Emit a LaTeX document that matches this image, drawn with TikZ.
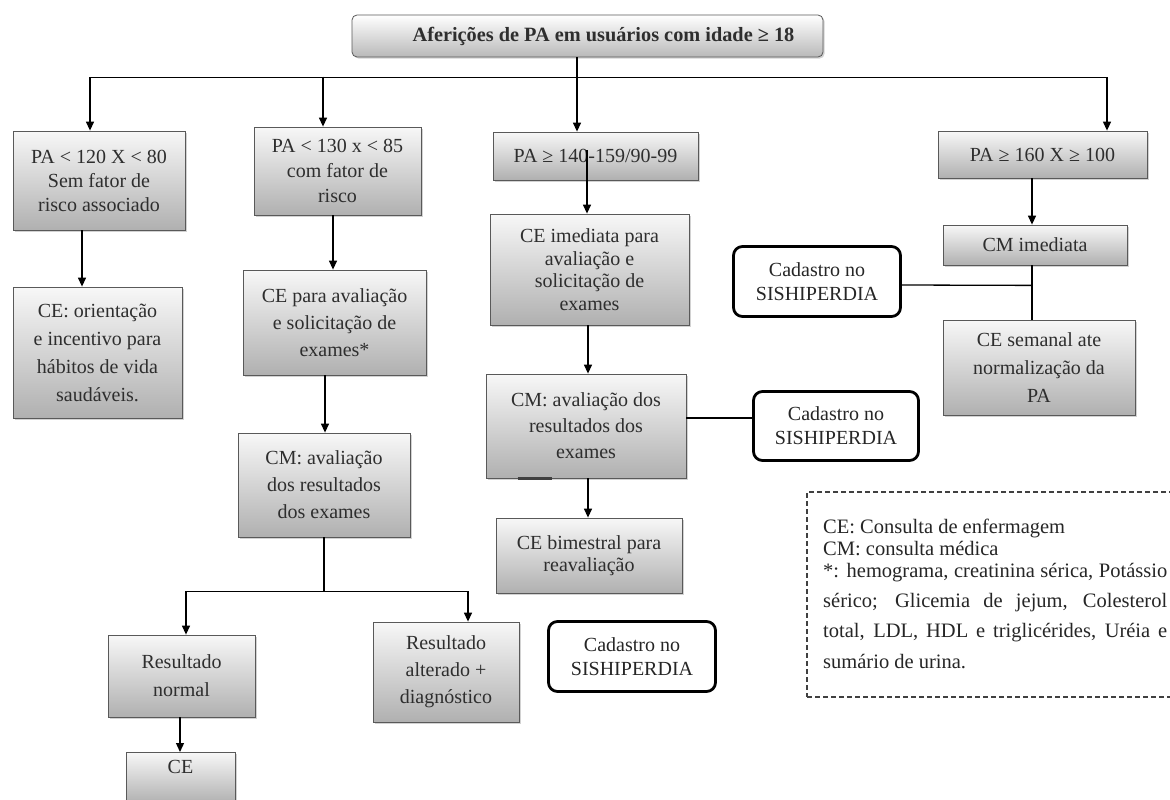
\documentclass[tikz,border=0pt]{standalone}
\usepackage{fontspec}
\setmainfont{Liberation Serif}
\usetikzlibrary{arrows.meta,shadows,calc}
\begin{document}
\begin{tikzpicture}[x=1pt,y=-1pt,
  box/.style={draw=gray!70!black, line width=0.8pt, top color=gray!6, bottom color=gray!62,
    align=center, text=black!82, inner sep=1pt, font=\fontsize{20}{27}\selectfont,
    drop shadow={shadow xshift=1.6pt, shadow yshift=-1.6pt, opacity=0.35}},
  cad/.style={draw=black, line width=2.8pt, rounded corners=9pt, fill=white, align=center,
    text=black!85, inner sep=1pt, font=\fontsize{20}{24}\selectfont},
  conn/.style={line width=1.3pt, draw=black},
  arr/.style={conn, -{Triangle[length=9pt,width=8pt]}},
  lg/.style={anchor=base west, inner sep=0pt, font=\fontsize{20.5}{22}\selectfont, text=black!85}
]
\fill[white] (0,0) rectangle (1170,800);
\useasboundingbox (0,0) rectangle (1170,800);

% title
\node[box, minimum width=471pt, minimum height=42pt, rounded corners=5pt, top color=white,
  bottom color=gray!55, font=\bfseries\fontsize{20.3}{22}\selectfont] (top) at (587.5,36)
  {\hspace*{32pt}Aferições de PA em usuários com idade ≥ 18};

% first row
\node[box, minimum width=172pt, minimum height=99pt, font=\fontsize{20}{24}\selectfont] (B1) at (99,180.5)
  {PA < 120 X < 80\\Sem fator de\\risco associado};
\node[box, minimum width=167pt, minimum height=88pt, font=\fontsize{20}{25}\selectfont] (B2) at (337.5,171)
  {PA < 130 x < 85\\com fator de\\risco};
\node[box, minimum width=205pt, minimum height=48pt] (B3) at (595.5,156) {PA ≥ 140-159/90-99};
\node[box, minimum width=209pt, minimum height=47pt] (B4) at (1042.5,154.5) {PA ≥ 160 X ≥ 100};

% column 1
\node[box, minimum width=169pt, minimum height=131pt, font=\fontsize{20}{28}\selectfont] (C1) at (97.5,352.5)
  {CE: orientação\\e incentivo para\\hábitos de vida\\saudáveis.};

% column 2
\node[box, minimum width=183pt, minimum height=105pt] (C2) at (334.5,322.5)
  {CE para avaliação\\e solicitação de\\exames*};
\node[box, minimum width=172pt, minimum height=104pt] (D2) at (324,485)
  {CM: avaliação\\dos resultados\\dos exames};
\node[box, minimum width=147pt, minimum height=82pt, font=\fontsize{20}{28}\selectfont] (E1) at (181.5,676)
  {Resultado\\normal};
\node[box, minimum width=146pt, minimum height=100pt] (E2) at (446,672)
  {Resultado\\alterado +\\diagnóstico};
\node[box, anchor=north, minimum width=109pt, text height=21pt, text depth=30pt, inner ysep=0pt] (F1) at (180.5,752) {CE};

% column 3
\node[box, minimum width=199pt, minimum height=111pt, font=\fontsize{20}{22.5}\selectfont] (G3) at (589.5,269.5)
  {CE imediata para\\avaliação e\\solicitação de\\exames};
\node[box, minimum width=200pt, minimum height=104pt, font=\fontsize{20}{26}\selectfont] (H3) at (586,426)
  {CM: avaliação dos\\resultados dos\\exames};
\node[box, minimum width=186pt, minimum height=75pt, font=\fontsize{20}{21.5}\selectfont] (I3) at (589,555.5)
  {CE bimestral para\\reavaliação};

% column 4
\node[box, minimum width=184pt, minimum height=40pt] (J4) at (1035,245) {CM imediata};
\node[box, minimum width=192pt, minimum height=95pt, font=\fontsize{20}{28}\selectfont] (K4) at (1039,367.5)
  {CE semanal ate\\normalização da\\PA};

% cadastro boxes
\node[cad, minimum width=167pt, minimum height=70pt] (Cad1) at (817,281.5) {Cadastro no\\SISHIPERDIA};
\node[cad, minimum width=165pt, minimum height=69pt] (Cad2) at (836,426) {Cadastro no\\SISHIPERDIA};
\node[cad, minimum width=167pt, minimum height=70pt] (Cad3) at (632,656.5) {Cadastro no\\SISHIPERDIA};

% connectors
\coordinate (jt) at ($(top.south)+(-10.5,20)$);
\draw[conn] ($(top.south)+(-10.5,0)$) -- (jt);
\draw[arr] (jt) -| ($(B1.north)+(-9,0)$);
\draw[arr] (jt) -| ($(B4.north)+(64.5,0)$);
\draw[arr] (jt) -- (jt |- B3.north);
\coordinate (j2) at ($(B2.north)+(-14.5,-50)$);
\draw[arr] (j2) -- ($(B2.north)+(-14.5,0)$);

\draw[arr] ($(B1.south)+(-17,0)$) -- ($(C1.north)+(-15.5,0)$);
\draw[arr] ($(B2.south)+(-4.5,0)$) -- ($(C2.north)+(-1.5,0)$);
\draw[arr] ($(C2.south)+(-9.5,0)$) -- ($(D2.north)+(1,0)$);
\coordinate (jd) at ($(D2.south)+(0,54)$);
\draw[conn] (D2.south) -- (jd);
\draw[arr] (jd) -| ($(E1.north)+(4.5,0)$);
\draw[arr] (jd) -| ($(E2.north)+(22,0)$);
\draw[arr] ($(E1.south)+(-1.5,0)$) -- ($(F1.north)+(-0.5,0)$);

\draw[arr] ($(B3.center)+(-8.5,-6)$) -- ($(G3.north)+(-2.5,0)$);
\draw[arr] ($(G3.south)+(-1.5,0)$) -- ($(H3.north)+(2,0)$);
\draw[arr] ($(H3.south)+(2,0)$) -- ($(I3.north)+(-1,0)$);
\draw[conn] ($(H3.east)+(0,-8)$) -- ($(Cad2.west)+(0,-8)$);
\draw[line width=2.2pt, black!75] ($(H3.south west)+(32,0)$) -- ($(H3.south west)+(66,0)$);

\draw[arr] ($(B4.south)+(-10.5,0)$) -- ($(J4.north)+(-3,0)$);
\coordinate (jk) at ($(J4.south)+(-3,20)$);
\draw[conn] ($(J4.south)+(-3,0)$) -- ($(K4.north)+(-7,0)$);
\draw[conn] ($(Cad1.east)+(0,3.5)$) -- (jk);

% legend
\node[draw=black!75, line width=1.3pt, dash pattern=on 5pt off 3pt, minimum width=365pt,
  minimum height=205pt, inner sep=0pt] (leg) at (989.5,594.5) {};
\node[lg] (l1) at (823,533) {CE: Consulta de enfermagem};
\node[lg] (l2) at (823,555) {CM: consulta médica};
\node[lg] (l3) at (823,577) {\makebox[344pt][s]{*: hemograma, creatinina sérica, Potássio}};
\node[lg] (l4) at (823,607) {\makebox[344pt][s]{sérico; Glicemia de jejum, Colesterol}};
\node[lg] (l5) at (823,637) {\makebox[344pt][s]{total, LDL, HDL e triglicérides, Uréia e}};
\node[lg] (l6) at (823,668) {sumário de urina.};
\end{tikzpicture}
\end{document}
